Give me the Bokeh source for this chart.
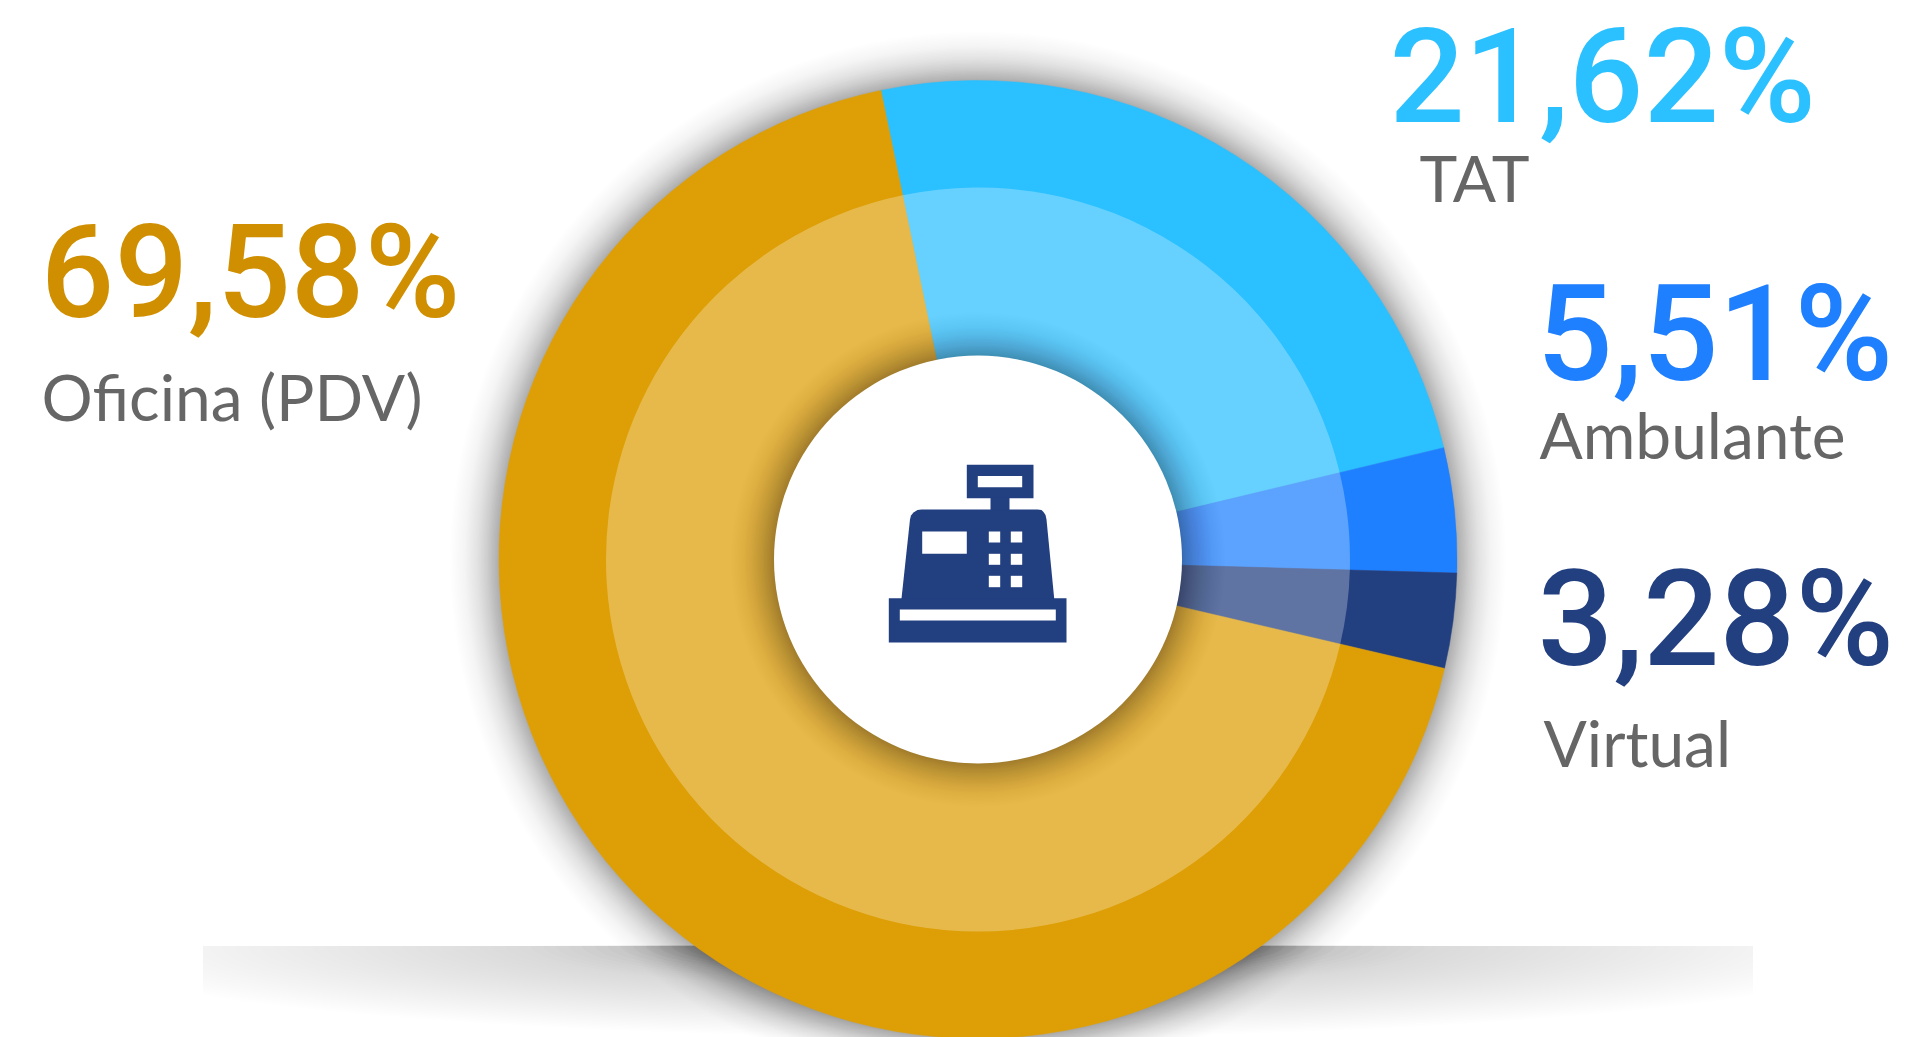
import numpy as np
from bokeh.plotting import figure
from bokeh.models import Range1d, ColumnDataSource
from bokeh.core.properties import value
from bokeh.embed import file_html
from bokeh.resources import INLINE

# ---- data ----
categories = ["TAT", "Ambulante", "Virtual", "Oficina (PDV)"]
value_labels = ["21,62%", "5,51%", "3,28%", "69,58%"]
# shares as actually drawn in the reference (they differ slightly from the printed labels)
drawn_shares = [24.5, 4.2, 3.2, 68.1]
outer_colors = ["#2BC0FF", "#1E7FFF", "#223F80", "#DE9F06"]
value_colors = ["#2BC0FF", "#1E7FFF", "#223F80", "#D08F00"]

# ---- layout, in page pixels ----
W, H = 1931, 1037
PAGE_H = 1037
def Y(py):
    return PAGE_H - np.asarray(py, dtype=float)

CX, CY = 977.5, 559
R_OUT, R_MID, R_IN = 479, 372, 204
START_DEG = 101.7

VALUE_PX = np.array([132, 134, 134, 130])
NAME_PX = 64
VALUE_FONT = "Roboto Medium"
NAME_FONT = "Lato"
value_x = [1389, 1536, 1537, 40]
value_y = np.array([125, 384, 669, 320]) - 0.37 * VALUE_PX
name_x = [1419, 1539, 1543, 41]
name_y = np.array([201, 458, 766, 420]) - 0.37 * NAME_PX

p = figure(width=W, height=H, x_range=Range1d(0, W), y_range=Range1d(0, H),
           x_axis_type=None, y_axis_type=None, toolbar_location=None, output_backend="svg",
           min_border=0, outline_line_color=None, background_fill_color="white")
p.grid.visible = False

def layer_alphas(d):
    prev = np.concatenate([[0.0], d[:-1]])
    return 1 - (1 - d) / (1 - prev)

# ---- floor shadow band: stacked half ellipses clipped to a rectangle ----
BAND_L, BAND_R, BAND_T = 202, 1753, 945
A_E, B_E = 950, 95
scales = np.linspace(1.0, 0.2, 60)
dark = np.where(scales > 0.5, 0.13 * ((1 - scales) / 0.5) ** 1.2, 0.13 + 0.37 * ((0.5 - scales) / 0.3) ** 1.6)
t = np.linspace(0, np.pi, 180)
xs, ys = [], []
for s in scales:
    ex = np.clip(CX + A_E * s * np.cos(t), BAND_L, BAND_R)
    ey = BAND_T + B_E * s * np.sin(t)
    xs.append(ex.tolist())
    ys.append(Y(ey).tolist())
p.patches(xs, ys, fill_color="#3a3636", fill_alpha=layer_alphas(dark).tolist(), line_color=None)

# ---- outer shadow of the disc ----
radii = np.linspace(R_OUT + 62, R_OUT, 45)
u = (R_OUT + 62 - radii) / 62
p.circle(x=[CX] * len(radii), y=[float(Y(CY))] * len(radii), radius=radii.tolist(), fill_color="black",
         fill_alpha=layer_alphas(0.30 * u ** 2.2).tolist(), line_color=None)

# ---- rings, from the shares ----
fr = np.array(drawn_shares) / sum(drawn_shares) * 2 * np.pi
ends = np.radians(START_DEG) - np.cumsum(fr)
starts = np.radians(START_DEG) - np.concatenate([[0], np.cumsum(fr)[:-1]])
src = ColumnDataSource(dict(x=[CX] * 4, y=[float(Y(CY))] * 4, s=starts, e=ends, c=outer_colors))
p.wedge(x="x", y="y", radius=R_OUT, start_angle="s", end_angle="e", direction="clock",
        fill_color="c", line_color="c", line_width=0.5, source=src)
p.wedge(x="x", y="y", radius=R_MID, start_angle="s", end_angle="e", direction="clock",
        fill_color="white", fill_alpha=0.28, line_color=None, source=src)

# ---- inner shadow on the light ring ----
radii2 = np.linspace(R_IN + 55, R_IN, 40)
u2 = (R_IN + 55 - radii2) / 55
p.circle(x=[CX] * len(radii2), y=[float(Y(CY))] * len(radii2), radius=radii2.tolist(), fill_color="black",
         fill_alpha=layer_alphas(0.28 * u2 ** 2.2).tolist(), line_color=None)
p.circle(x=[CX], y=[float(Y(CY))], radius=R_IN, fill_color="white", line_color=None)

# ---- cash register icon ----
NAVY = "#223F80"
def rect(x0, x1, y0, y1, color):
    p.quad(left=x0, right=x1, top=float(Y(y0)), bottom=float(Y(y1)), fill_color=color, line_color=None)

rect(966.3, 1033, 464.3, 497.7, NAVY)
rect(977.3, 1021.7, 475.5, 486.7, "white")
rect(990, 1009, 497, 511, NAVY)
bx = [900.8, 901, 909.5, 910.5, 913, 917, 921, 1037, 1041, 1043, 1045, 1046, 1053.7, 1053.9]
by = [604, 598, 519, 515, 512, 509.5, 509, 509, 509.5, 511.5, 514.5, 519, 598, 604]
p.patch(bx, Y(by).tolist(), fill_color=NAVY, line_color=None)
rect(888.3, 1066, 597.7, 642, NAVY)
rect(899.3, 1055.3, 609, 620, "white")
rect(921.7, 966.3, 531, 553.3, "white")
for bxl, bxr in [(988.3, 999.7), (1010.3, 1021.7)]:
    for byt, byb in [(531, 542), (553.3, 564.3), (575.3, 586.7)]:
        rect(bxl, bxr, byt, byb, "white")

# ---- texts ----
vsrc = ColumnDataSource(dict(x=value_x, y=Y(value_y).tolist(), t=value_labels, c=value_colors,
                             fs=[f"{int(v)}px" for v in VALUE_PX]))
p.text(x="x", y="y", text="t", text_color="c", text_font=value(VALUE_FONT), text_font_size="fs",
       text_baseline="alphabetic", text_align="left", source=vsrc)
nsrc = ColumnDataSource(dict(x=name_x, y=Y(name_y).tolist(), t=categories))
p.text(x="x", y="y", text="t", text_color="#666666", text_font=value(NAME_FONT), text_font_size=value(f"{NAME_PX}px"),
       text_baseline="alphabetic", text_align="left", source=nsrc)

open("out.html", "w").write(file_html(p, INLINE))
